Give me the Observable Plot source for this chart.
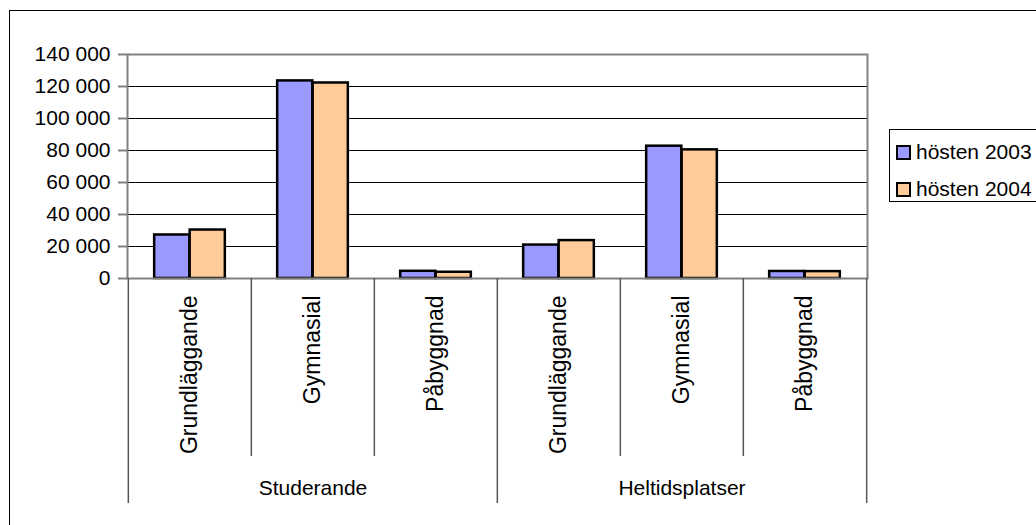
<!DOCTYPE html>
<html>
<head>
<meta charset="utf-8">
<script src="https://cdn.jsdelivr.net/npm/d3@7"></script>
<script src="https://cdn.jsdelivr.net/npm/@observablehq/plot@0.6"></script>
<style>
  html, body { margin: 0; padding: 0; background: #fff; overflow: hidden; }
  #wrap { position: relative; width: 1036px; height: 525px; overflow: hidden; font-family: 'Liberation Sans', Arial, sans-serif; }
  #outer { position: absolute; left: 9px; top: 10px; width: 1100px; height: 600px; border: 1.5px solid #000; box-sizing: border-box; }
  #chart { position: absolute; left: 0; top: 0; }
  #legend { position: absolute; left: 889px; top: 129px; width: 200px; height: 73px; border: 1px solid #000; box-sizing: border-box; background: #fff; }
  .item { position: absolute; left: 6px; height: 24px; display: flex; align-items: center; font-size: 21px; color: #000; white-space: nowrap; }
  .sw { width: 11px; height: 11px; border: 2px solid #000; margin-right: 5px; }
</style>
</head>
<body>
<div id="wrap">
  <div id="outer"></div>
  <div id="chart"></div>
  <div id="legend"></div>
</div>
<script>
// ---- data ----
const groups = ["Studerande", "Heltidsplatser"];
const levels = ["Grundläggande", "Gymnasial", "Påbyggnad"];
const seriesNames = ["hösten 2003", "hösten 2004"];
const seriesColors = ["#9999FF", "#FFCC99"];
// values in order: Studerande (Grundl., Gymn., Påbygg.), Heltidsplatser (Grundl., Gymn., Påbygg.)
const values2003 = [27200, 123500, 4500, 20900, 82700, 4400];
const values2004 = [30300, 122200, 3900, 23700, 80400, 4300];
const yTicks = [0, 20000, 40000, 60000, 80000, 100000, 120000, 140000];

// ---- derived tables ----
const keys = [];
groups.forEach(g => levels.forEach(l => keys.push(g + "|" + l)));
const rows = [];
keys.forEach((k, i) => {
  rows.push({key: k, series: seriesNames[0], value: values2003[i]});
  rows.push({key: k, series: seriesNames[1], value: values2004[i]});
});
const innerEdges = keys.filter((k, i) => i % levels.length !== 0);
const groupEdges = keys.filter((k, i) => i % levels.length === 0);
const lastKey = keys[keys.length - 1];
const groupMid = groups.map(g => ({key: g + "|" + levels[1], label: g}));

// ---- layout ----
const W = 1036, H = 525;
const mL = 127, mR = 169, mT = 54, mB = 247;
const plotW = W - mL - mR, plotH = H - mT - mB;
const bw = plotW / keys.length;
const barW = 35.5;
const outerInset = bw / 2 - barW, innerInset = bw / 2;

const fmt = d3.formatLocale({decimal: ",", thousands: "\u00a0", grouping: [3], currency: ["", ""]}).format(",d");

const chart = Plot.plot({
  width: W, height: H,
  marginLeft: mL, marginRight: mR, marginTop: mT, marginBottom: mB,
  style: {fontFamily: "'Liberation Sans', Arial, sans-serif", fontSize: "21px", background: "transparent", color: "#000", overflow: "visible"},
  x: {type: "band", domain: keys, padding: 0, axis: null, label: null},
  y: {domain: [0, 140000], axis: null, label: null},
  color: {domain: seriesNames, range: seriesColors},
  marks: [
    Plot.gridY({ticks: yTicks, stroke: "#000", strokeOpacity: 1, strokeWidth: 1}),
    Plot.barY(rows.filter(d => d.series === seriesNames[0]), {x: "key", y: "value", fill: "series", stroke: "#000", strokeWidth: 2.5, insetLeft: outerInset, insetRight: innerInset}),
    Plot.barY(rows.filter(d => d.series === seriesNames[1]), {x: "key", y: "value", fill: "series", stroke: "#000", strokeWidth: 2.5, insetLeft: innerInset, insetRight: outerInset}),
    Plot.frame({stroke: "#808080", strokeWidth: 2}),
    Plot.axisY({ticks: yTicks, tickFormat: fmt, tickSize: 9, tickPadding: 8, stroke: "#808080", strokeWidth: 2, fontSize: 21, label: null}),
    Plot.axisX({tickRotate: -90, tickSize: 0, tickPadding: 17, tickFormat: k => k.split("|")[1], fontSize: 23, label: null}),
    Plot.ruleX(innerEdges, {x: d => d, dx: -bw / 2, insetTop: plotH, insetBottom: -178, stroke: "#555", strokeWidth: 1.5}),
    Plot.ruleX(groupEdges, {x: d => d, dx: -bw / 2, insetTop: plotH, insetBottom: -225, stroke: "#555", strokeWidth: 1.5}),
    Plot.ruleX([lastKey], {x: d => d, dx: bw / 2, insetTop: plotH, insetBottom: -225, stroke: "#555", strokeWidth: 1.5}),
    Plot.text(groupMid, {x: "key", text: "label", frameAnchor: "bottom", dy: 210, lineAnchor: "middle", fontSize: 21, fill: "#000"})
  ]
});
document.getElementById("chart").appendChild(chart);

// ---- legend ----
const legend = document.getElementById("legend");
seriesNames.forEach((name, i) => {
  const item = document.createElement("div");
  item.className = "item";
  item.style.top = (10 + i * 37) + "px";
  const sw = document.createElement("span");
  sw.className = "sw";
  sw.style.background = seriesColors[i];
  const t = document.createElement("span");
  t.textContent = name;
  item.appendChild(sw);
  item.appendChild(t);
  legend.appendChild(item);
});
</script>
</body>
</html>
